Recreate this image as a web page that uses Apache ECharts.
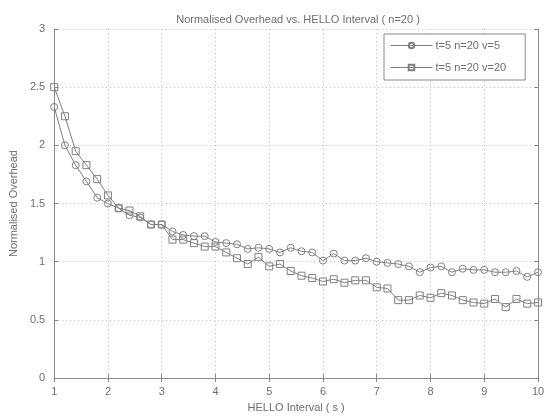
<!DOCTYPE html>
<html>
<head>
<meta charset="utf-8">
<script src="https://cdn.jsdelivr.net/npm/echarts@6/dist/echarts.min.js"></script>
<style>
  html, body { margin: 0; padding: 0; background: #fff; }
  #chart { width: 550px; height: 418px; }
</style>
</head>
<body>
<div id="chart"></div>
<script>
// HELLO interval (s), sampled every 0.2 s
const helloInterval = [
  1.0, 1.2, 1.4, 1.6, 1.8, 2.0, 2.2, 2.4, 2.6, 2.8,
  3.0, 3.2, 3.4, 3.6, 3.8, 4.0, 4.2, 4.4, 4.6, 4.8,
  5.0, 5.2, 5.4, 5.6, 5.8, 6.0, 6.2, 6.4, 6.6, 6.8,
  7.0, 7.2, 7.4, 7.6, 7.8, 8.0, 8.2, 8.4, 8.6, 8.8,
  9.0, 9.2, 9.4, 9.6, 9.8, 10.0
];

// Normalised overhead, t=5 n=20 v=5
const overheadV5 = [
  2.33, 2.00, 1.83, 1.69, 1.55, 1.50, 1.46, 1.40, 1.38, 1.32,
  1.32, 1.26, 1.23, 1.22, 1.22, 1.17, 1.16, 1.15, 1.11, 1.12,
  1.11, 1.08, 1.12, 1.09, 1.08, 1.01, 1.07, 1.01, 1.01, 1.03,
  1.00, 0.99, 0.98, 0.96, 0.91, 0.95, 0.96, 0.91, 0.94, 0.93,
  0.93, 0.91, 0.91, 0.92, 0.87, 0.91
];

// Normalised overhead, t=5 n=20 v=20
const overheadV20 = [
  2.50, 2.25, 1.95, 1.83, 1.71, 1.57, 1.46, 1.44, 1.39, 1.32,
  1.32, 1.19, 1.19, 1.16, 1.13, 1.13, 1.08, 1.03, 0.98, 1.04,
  0.96, 0.98, 0.92, 0.88, 0.86, 0.83, 0.85, 0.82, 0.84, 0.84,
  0.78, 0.77, 0.67, 0.67, 0.71, 0.69, 0.73, 0.71, 0.67, 0.65,
  0.64, 0.68, 0.61, 0.68, 0.64, 0.65
];

const seriesNames = ['t=5 n=20 v=5', 't=5 n=20 v=20'];
const xTicks = { min: 1, max: 10, step: 1 };
const yTicks = { min: 0, max: 3, step: 0.5 };

const ink = '#808080';
const frame = '#8a8a8a';
const textGrey = '#6e6e6e';
const font = 'Liberation Sans, Arial, sans-serif';

const pairs = ys => helloInterval.map((x, i) => [x, ys[i]]);

const gridLine = { show: true, lineStyle: { color: '#bcbcbc', type: [1, 3], width: 1 } };

const chart = echarts.init(document.getElementById('chart'), null, { renderer: 'canvas' });

chart.setOption({
  backgroundColor: '#fff',
  animation: false,
  title: {
    text: 'Normalised Overhead vs. HELLO Interval ( n=20 )',
    left: 293, top: 9, textAlign: 'center',
    textStyle: { fontFamily: font, fontSize: 11, fontWeight: 'normal', color: textGrey }
  },
  grid: { left: 48, right: 12, top: 29, bottom: 39, containLabel: false },
  legend: {
    orient: 'vertical',
    left: 384, top: 34,
    padding: [6, 19, 7, 6],
    itemGap: 11,
    itemWidth: 42,
    itemHeight: 7,
    backgroundColor: '#fff',
    borderColor: frame,
    borderWidth: 1,
    borderRadius: 0,
    lineStyle: { width: 1, color: ink },
    textStyle: { fontFamily: font, fontSize: 11, color: textGrey, padding: [0, 0, 0, -2] },
    data: seriesNames
  },
  xAxis: [
    {
      type: 'value', min: xTicks.min, max: xTicks.max, interval: xTicks.step,
      name: 'HELLO Interval ( s )', nameLocation: 'middle', nameGap: 22,
      nameTextStyle: { fontFamily: font, fontSize: 11, color: textGrey },
      axisLine: { show: true, onZero: false, lineStyle: { color: frame } },
      axisTick: { show: true, inside: true, length: 4, lineStyle: { color: frame } },
      axisLabel: { fontFamily: font, fontSize: 11, color: textGrey, margin: 8 },
      splitLine: gridLine
    },
    {
      type: 'value', position: 'top', min: xTicks.min, max: xTicks.max, interval: xTicks.step,
      axisLine: { show: true, lineStyle: { color: frame } },
      axisTick: { show: true, inside: true, length: 4, lineStyle: { color: frame } },
      axisLabel: { show: false },
      splitLine: { show: false }
    }
  ],
  yAxis: [
    {
      type: 'value', min: yTicks.min, max: yTicks.max, interval: yTicks.step,
      name: 'Normalised Overhead', nameLocation: 'middle', nameGap: 28,
      nameTextStyle: { fontFamily: font, fontSize: 11, color: textGrey },
      axisLine: { show: true, lineStyle: { color: frame } },
      axisTick: { show: true, inside: true, length: 4, lineStyle: { color: frame } },
      axisLabel: { fontFamily: font, fontSize: 11, color: textGrey, margin: 9 },
      splitLine: gridLine
    },
    {
      type: 'value', position: 'right', min: yTicks.min, max: yTicks.max, interval: yTicks.step,
      axisLine: { show: true, lineStyle: { color: frame } },
      axisTick: { show: true, inside: true, length: 4, lineStyle: { color: frame } },
      axisLabel: { show: false },
      splitLine: { show: false }
    }
  ],
  series: [
    {
      name: seriesNames[0], type: 'line', data: pairs(overheadV5),
      symbol: 'circle', symbolSize: 7, showAllSymbol: true,
      lineStyle: { color: ink, width: 1 },
      itemStyle: { color: 'rgba(255,255,255,0)', borderColor: ink, borderWidth: 1 }
    },
    {
      name: seriesNames[1], type: 'line', data: pairs(overheadV20),
      symbol: 'rect', symbolSize: 7, showAllSymbol: true,
      lineStyle: { color: ink, width: 1 },
      itemStyle: { color: 'rgba(255,255,255,0)', borderColor: ink, borderWidth: 1 }
    }
  ]
});
</script>
</body>
</html>
